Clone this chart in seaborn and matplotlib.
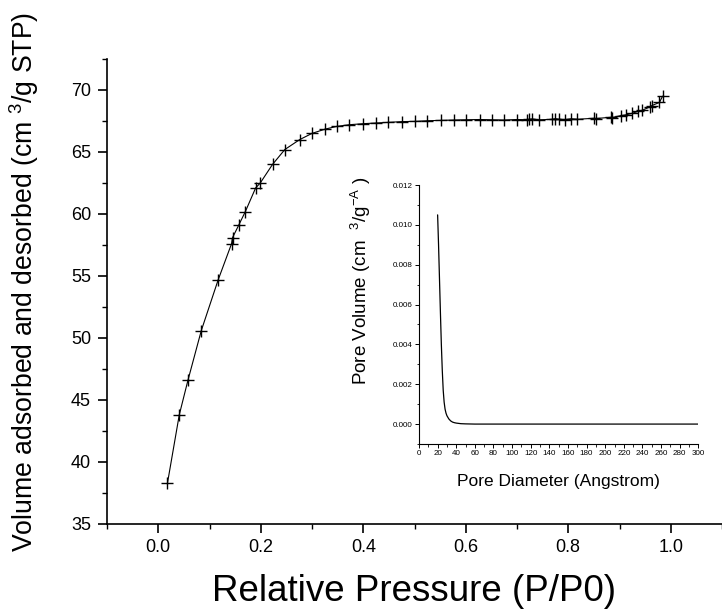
import numpy as np
import pandas as pd
import matplotlib
matplotlib.use("Agg")
import matplotlib.pyplot as plt
from matplotlib.ticker import MultipleLocator, FormatStrFormatter
import seaborn as sns

# N2 isotherm: relative pressure and volume adsorbed / desorbed
rel_pressure = [0.018, 0.041, 0.058, 0.084, 0.117, 0.143, 0.145, 0.157, 0.170,
                0.190, 0.199, 0.223, 0.247, 0.276, 0.300, 0.326, 0.349, 0.373,
                0.399, 0.425, 0.449, 0.475, 0.501, 0.525, 0.551, 0.577, 0.601,
                0.627, 0.651, 0.674, 0.700, 0.719, 0.723, 0.729, 0.743, 0.768,
                0.775, 0.781, 0.794, 0.805, 0.818, 0.850, 0.854, 0.883, 0.886,
                0.902, 0.913, 0.925, 0.936, 0.944, 0.959, 0.963, 0.978, 0.984]
volume = [38.3, 43.8, 46.6, 50.6, 54.7, 57.6, 58.1, 59.1, 60.2,
          62.1, 62.5, 64.0, 65.2, 66.0, 66.5, 66.85, 67.07, 67.2,
          67.28, 67.34, 67.39, 67.45, 67.47, 67.52, 67.55, 67.58, 67.6,
          67.62, 67.6, 67.58, 67.62, 67.6, 67.63, 67.66, 67.6, 67.63,
          67.68, 67.64, 67.62, 67.68, 67.64, 67.72, 67.7, 67.8, 67.78,
          67.93, 68.0, 68.12, 68.28, 68.36, 68.63, 68.74, 69.0, 69.5]

# BJH pore size distribution
pore_diameter = [20, 21, 22, 23, 24, 25, 26, 27, 28, 29, 30, 32, 34, 36, 38,
                 40, 45, 50, 60, 80, 100, 150, 200, 250, 300]
pore_volume = [0.0105, 0.0090, 0.0073, 0.0056, 0.0040, 0.0027, 0.0017,
               0.0011, 0.00075, 0.00055, 0.00042, 0.00026, 0.00016, 0.00010,
               0.00007, 0.00005, 0.00002, 0.00001, 0.0, 0.0, 0.0, 0.0, 0.0,
               0.0, 0.0]

iso = pd.DataFrame({"p": rel_pressure, "v": volume})
psd = pd.DataFrame({"d": pore_diameter, "pv": pore_volume})

sns.set_style("ticks")
plt.rcParams["font.family"] = ["Liberation Sans", "DejaVu Sans"]
plt.rcParams["mathtext.fontset"] = "custom"
plt.rcParams["mathtext.rm"] = "Liberation Sans"
plt.rcParams["mathtext.it"] = "Liberation Sans"
plt.rcParams["mathtext.default"] = "regular"
for key in ("text.color", "axes.labelcolor", "xtick.color", "ytick.color",
            "axes.edgecolor"):
    plt.rcParams[key] = "black"

fig = plt.figure(figsize=(7.22, 6.12), dpi=100)

# main isotherm axes
ax = fig.add_axes([107 / 722, 1 - 524 / 612, 615 / 722, 465 / 612])
sns.lineplot(data=iso, x="p", y="v", ax=ax, color="black", linewidth=0.8,
             marker="+", markersize=8, markeredgewidth=1.0,
             markeredgecolor="black", estimator=None, sort=False)
ax.set_xlim(-0.1, 1.1)
ax.set_ylim(35, 72.5)
ax.xaxis.set_major_locator(MultipleLocator(0.2))
ax.xaxis.set_minor_locator(MultipleLocator(0.1))
ax.yaxis.set_major_locator(MultipleLocator(5))
ax.yaxis.set_minor_locator(MultipleLocator(2.5))
ax.xaxis.set_major_formatter(FormatStrFormatter("%.1f"))
ax.set_xticks([0.0, 0.2, 0.4, 0.6, 0.8, 1.0])
for s in ("top", "right"):
    ax.spines[s].set_visible(False)
for s in ("left", "bottom"):
    ax.spines[s].set_linewidth(1.2)
ax.tick_params(which="major", length=6.5, width=1.2, labelsize=13)
ax.tick_params(axis="y", which="major", pad=5)
ax.tick_params(axis="x", which="major", pad=4)
ax.tick_params(which="minor", length=3.5, width=1.0)
ax.set_xlabel("Relative Pressure (P/P0)", fontsize=26.5)
ax.set_ylabel("Volume adsorbed and desorbed (cm $^{3}$/g STP)", fontsize=19.2)
ax.xaxis.set_label_coords(0.5, -0.108)
ax.yaxis.set_label_coords(-0.108, 0.52)

# inset: pore size distribution
ins = fig.add_axes([419 / 722, 1 - 444 / 612, 279.3 / 722, 259 / 612])
sns.lineplot(data=psd, x="d", y="pv", ax=ins, color="black", linewidth=0.9,
             estimator=None, sort=False)
ins.set_xlim(0, 300)
ins.set_ylim(-0.001, 0.012)
ins.xaxis.set_major_locator(MultipleLocator(20))
ins.xaxis.set_minor_locator(MultipleLocator(10))
ins.yaxis.set_major_locator(MultipleLocator(0.002))
ins.yaxis.set_minor_locator(MultipleLocator(0.001))
ins.yaxis.set_major_formatter(FormatStrFormatter("%.3f"))
ins.set_yticks([0.000, 0.002, 0.004, 0.006, 0.008, 0.010, 0.012])
for s in ("top", "right"):
    ins.spines[s].set_visible(False)
for s in ("left", "bottom"):
    ins.spines[s].set_linewidth(0.8)
ins.tick_params(which="major", length=3, width=0.7, labelsize=5.8, pad=1.5)
ins.tick_params(which="minor", length=1.8, width=0.6)
ins.set_xlabel("Pore Diameter (Angstrom)", fontsize=12.5, labelpad=12)
ins.set_ylabel("Pore Volume (cm  $^{3}$/g$^{-A}$ )", fontsize=13.5)
ins.yaxis.set_label_coords(-0.165, 0.63)
ins.patch.set_alpha(0)

fig.savefig("out.png", dpi=100)
